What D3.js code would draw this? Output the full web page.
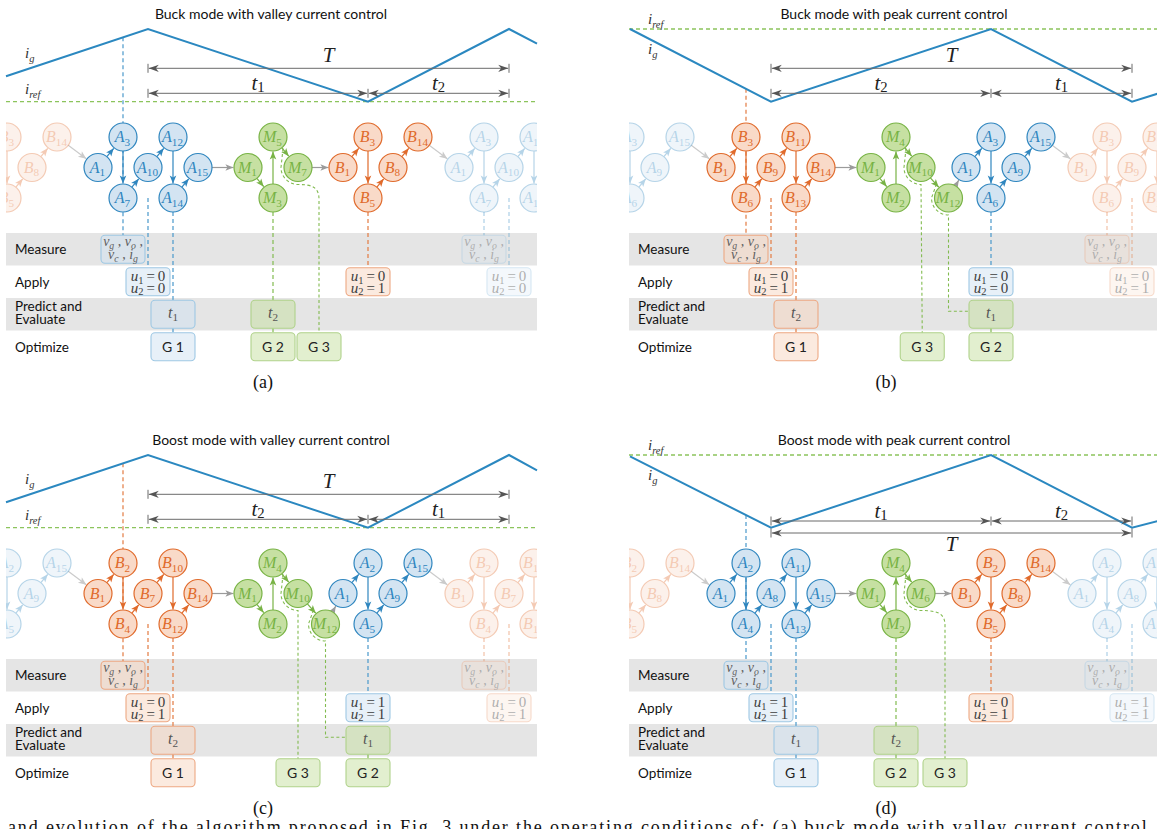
<!DOCTYPE html>
<html>
<head>
<meta charset="utf-8">
<script src="https://cdn.jsdelivr.net/npm/d3@7"></script>
<style>
  body { margin: 0; background: #fff; }
  svg { display: block; }
  .sans { font-family: Lato, "Open Sans", sans-serif; }
  .math { font-family: "Liberation Serif", "DejaVu Serif", serif; }
</style>
</head>
<body>
<svg id="chart" width="1157" height="829"></svg>
<script>
const titles = ["Buck mode with valley current control", "Buck mode with peak current control",
                "Boost mode with valley current control", "Boost mode with peak current control"];
const captions = ["(a)", "(b)", "(c)", "(d)"];
const rowNames = ["Measure", "Apply", "Predict and|Evaluate", "Optimize"];

// nodes in visiting order: [name, time slot, level 0 top / 1 middle / 2 bottom]
const nodesA = [["A1",0,1],["A3",1,0],["A7",1,2],["A10",2,1],["A12",3,0],["A14",3,2],["A15",4,1],
  ["M1",6,1],["M3",7,2],["M5",7,0],["M7",8,1],
  ["B1",9.8,1],["B3",10.8,0],["B5",10.8,2],["B8",11.8,1],["B14",12.8,0]];
const nodesB = [["B1",0,1],["B3",1,0],["B6",1,2],["B9",2,1],["B11",3,0],["B13",3,2],["B14",4,1],
  ["M1",6,1],["M2",7,2],["M4",7,0],["M10",8,1],["M12",9.1,2],
  ["A1",9.8,1],["A3",10.8,0],["A6",10.8,2],["A9",11.8,1],["A15",12.8,0]];
const nodesC = [["B1",0,1],["B2",1,0],["B4",1,2],["B7",2,1],["B10",3,0],["B12",3,2],["B14",4,1],
  ["M1",6,1],["M2",7,2],["M4",7,0],["M10",8,1],["M12",9.1,2],
  ["A1",9.8,1],["A2",10.8,0],["A5",10.8,2],["A9",11.8,1],["A15",12.8,0]];
const nodesD = [["A1",0,1],["A2",1,0],["A4",1,2],["A8",2,1],["A11",3,0],["A13",3,2],["A15",4,1],
  ["M1",6,1],["M2",7,2],["M4",7,0],["M6",8,1],
  ["B1",9.8,1],["B2",10.8,0],["B5",10.8,2],["B8",11.8,1],["B14",12.8,0]];

// inductor current i_g: [time slot, level 0 valley .. 1 peak]
const igA = [[-3.68,0.35],[2,1],[10.8,0],[16.44,1],[17.56,0.8]];
const igB = [[-3.64,1],[2,0],[10.8,1],[16.44,0],[17.56,0.12]];
const igC = [[-3.68,0.35],[2,1],[10.8,0],[16.44,1],[17.56,0.79]];
const igD = [[-3.64,0.98],[2,0],[10.8,1],[16.44,0],[17.56,0.1]];
const refLevel = [0, 1, 0, 1];

const period = 14.44, tStart = 2, tSplit = 10.8;
const spanLabels = [["1","2"],["2","1"],["2","1"],["1","2"]];

// dashed links: [slot, from ("ig" | node level | "box"), to lane, group, next period]
const linksA = [[1,"ig",0,"A",0],[2,1,1,"A",0],[3,2,2,"A",0],[3,"box",3,"A",0],[7,2,2,"M",0],[7,"box",3,"M",0],
  [10.8,2,1,"B",0],[1,2,0,"A",1],[2,1,1,"A",1]];
const linksB = [[1,"ig",0,"B",0],[2,1,1,"B",0],[3,2,2,"B",0],[3,"box",3,"B",0],[10.8,2,1,"A",0],[10.8,"box",3,"M",0],
  [1,2,0,"B",1],[2,1,1,"B",1]];
const linksC = [[1,"ig",0,"B",0],[2,1,1,"B",0],[3,2,2,"B",0],[3,"box",3,"B",0],[10.8,2,1,"A",0],[10.8,"box",3,"M",0],
  [1,2,0,"B",1],[2,1,1,"B",1]];
const linksD = [[1,"ig",0,"A",0],[2,1,1,"A",0],[3,2,2,"A",0],[3,"box",3,"A",0],[7,2,2,"M",0],[7,"box",3,"M",0],
  [10.8,2,1,"B",0],[1,2,0,"A",1],[2,1,1,"A",1]];

// boxes: [slot, lane, group, content, next period]
const boxesA = [[1,0,"A","meas",0],[2,1,"A","u00",0],[3,2,"A","t1",0],[3,3,"A","G 1",0],[7,2,"M","t2",0],[7,3,"M","G 2",0],
  [8.84,3,"M","G 3",0],[10.8,1,"B","u01",0],[1,0,"A","meas",1],[2,1,"A","u00",1]];
const boxesB = [[1,0,"B","meas",0],[2,1,"B","u01",0],[3,2,"B","t2",0],[3,3,"B","G 1",0],[8.05,3,"M","G 3",0],
  [10.8,1,"A","u00",0],[10.8,2,"M","t1",0],[10.8,3,"M","G 2",0],[1,0,"B","meas",1],[2,1,"B","u01",1]];
const boxesC = [[1,0,"B","meas",0],[2,1,"B","u01",0],[3,2,"B","t2",0],[3,3,"B","G 1",0],[8.0,3,"M","G 3",0],
  [10.8,1,"A","u11",0],[10.8,2,"M","t1",0],[10.8,3,"M","G 2",0],[1,0,"B","meas",1],[2,1,"B","u01",1]];
const boxesD = [[1,0,"A","meas",0],[2,1,"A","u11",0],[3,2,"A","t1",0],[3,3,"A","G 1",0],[7,2,"M","t2",0],[7,3,"M","G 2",0],
  [8.96,3,"M","G 3",0],[10.8,1,"B","u01",0],[1,0,"A","meas",1],[2,1,"A","u11",1]];

// dashed curves that wrap around an M node: [node, target slot, target lane, kind]
const curvesA = [["M7",8.84,3,"down"]];
const curvesB = [["M10",8.05,3,"down"],["M12",10.8,2,"elbow"]];
const curvesC = [["M10",8.0,3,"down"],["M12",10.8,2,"elbow"]];
const curvesD = [["M6",8.96,3,"down"]];

const panels = [
  {nodes: nodesA, ig: igA, links: linksA, boxes: boxesA, curves: curvesA},
  {nodes: nodesB, ig: igB, links: linksB, boxes: boxesB, curves: curvesB},
  {nodes: nodesC, ig: igC, links: linksC, boxes: boxesC, curves: curvesC},
  {nodes: nodesD, ig: igD, links: linksD, boxes: boxesD, curves: curvesD}
];
const panelOff = [[0,0],[623,0],[0,426],[623,426]];

const palette = {
  A: {stroke:"#2f86bf", fill:"#d3e4f2", dash:"#4a98cb", box:"#cfe1f1", boxLine:"#9ec8e4"},
  B: {stroke:"#e06a2b", fill:"#f9dac8", dash:"#e37b41", box:"#f7d5bf", boxLine:"#eda883"},
  M: {stroke:"#78b345", fill:"#c6e0a2", dash:"#82bb50", box:"#c5dfa0", boxLine:"#b0d28b"}
};
const edgeGray = "#9b9b9b", wrapGray = "#cbcbcb", dimGray = "#6b6b6b";
const nodeR = 14;

const x = d3.scaleLinear().domain([0, 1]).range([98, 123]);
const lvl = d3.scaleLinear().domain([0, 1]).range([101.7, 29]);
const rowY = d3.scalePoint().domain([0, 1, 2]).range([137, 198]);
const lane = d3.scaleBand().domain([0, 1, 2, 3]).range([233, 363]);

const svg = d3.select("#chart");
const defs = svg.append("defs");

function marker(id, color, path, tip) {
  defs.append("marker").attr("id", id).attr("viewBox", "-1 -5 12 10")
    .attr("refX", tip).attr("refY", 0).attr("markerWidth", 12).attr("markerHeight", 10)
    .attr("markerUnits", "userSpaceOnUse").attr("orient", "auto-start-reverse")
    .append("path").attr("d", path).attr("fill", color);
}
const headPath = "M0,-3.3L8,0L0,3.3L2,0Z";
Object.keys(palette).forEach(k => marker("h" + k, palette[k].stroke, headPath, 8));
marker("hgray", edgeGray, headPath, 8);
marker("hwrap", wrapGray, headPath, 8);
marker("hdim", "#555", "M0,-3.6L10,0L0,3.6L3,0Z", 10);

// text made of italic / roman runs with subscripts
function rich(text, parts, size, drop) {
  let cur = 0;
  parts.forEach(([s, k]) => {
    const sub = k.startsWith("s");
    const want = sub ? size * (drop === undefined ? 0.28 : drop) : 0;
    text.append("tspan").attr("dy", want - cur)
      .style("font-size", (sub ? size * 0.7 : size) + "px")
      .style("font-style", k.endsWith("i") ? "italic" : "normal")
      .text(s);
    cur = want;
  });
  return text;
}

function igAt(pts, s) {
  for (let i = 1; i < pts.length; i++) {
    if (s <= pts[i][0]) {
      const f = (s - pts[i-1][0]) / (pts[i][0] - pts[i-1][0]);
      return lvl(pts[i-1][1] + f * (pts[i][1] - pts[i-1][1]));
    }
  }
  return lvl(pts[pts.length - 1][1]);
}

const boxTop = l => lane(l) + 2.25;

panels.forEach((p, pi) => {
  const [dx, dy] = panelOff[pi];
  const g = svg.append("g").attr("transform", `translate(${dx},${dy})`);
  defs.append("clipPath").attr("id", "clip" + pi)
    .append("rect").attr("x", 6).attr("y", 0).attr("width", 531).attr("height", 420);

  // grey lanes and row names
  g.selectAll(".band").data([0, 2]).join("rect").attr("class", "band")
    .attr("x", 6).attr("width", 531).attr("y", d => lane(d)).attr("height", lane.bandwidth())
    .attr("fill", "#e5e5e5");
  rowNames.forEach((name, i) => {
    const parts = name.split("|");
    const cy = lane(i) + lane.bandwidth() / 2;
    const t = g.append("text").attr("class", "sans").attr("x", 15)
      .attr("y", parts.length > 1 ? cy - 3 : cy + 4.8)
      .style("font-size", "13.5px").attr("fill", "#111");
    parts.forEach((s, j) => t.append("tspan").attr("x", 15).attr("dy", j ? 13 : 0).text(s));
  });

  g.append("text").attr("class", "sans").attr("x", 271).attr("y", 18.5)
    .attr("text-anchor", "middle").style("font-size", "14px").attr("fill", "#111").text(titles[pi]);
  g.append("text").attr("class", "math").attr("x", 263).attr("y", 388)
    .attr("text-anchor", "middle").style("font-size", "18px").attr("fill", "#111").text(captions[pi]);

  // i_ref and i_g
  const refY = lvl(refLevel[pi]);
  g.append("line").attr("x1", 6).attr("x2", 537).attr("y1", refY).attr("y2", refY)
    .attr("stroke", "#8cc45c").attr("stroke-width", 1.3).attr("stroke-dasharray", "4,3");
  const low = refLevel[pi] === 0;
  rich(g.append("text").attr("class", "math").attr("x", 25).attr("y", low ? 58 : 54).attr("fill", "#333"),
    [["i","i"],["g","si"]], 15);
  rich(g.append("text").attr("class", "math").attr("x", 25).attr("y", low ? 94 : 24).attr("fill", "#333"),
    [["i","i"],["ref","si"]], 15);

  // dashed links into the task rows
  p.links.forEach(([s, from, to, grp, nxt]) => {
    const cx = x(s + nxt * period);
    let y0;
    if (from === "ig") y0 = igAt(p.ig, s);
    else if (from === "box") y0 = boxTop(2) + 28;
    else y0 = from === 2 ? rowY(2) + nodeR : rowY(2);
    g.append("line").attr("x1", cx).attr("x2", cx).attr("y1", y0).attr("y2", boxTop(to))
      .attr("stroke", palette[grp].dash).attr("stroke-width", 1.2).attr("stroke-dasharray", "4,3")
      .attr("opacity", nxt ? 0.45 : 1);
  });

  // dashed curves that wrap around an M node
  p.curves.forEach(([name, s, to, kind]) => {
    const n = p.nodes.find(d => d[0] === name);
    const cx = x(n[1]), cy = rowY(n[2]);
    const gx = kind === "down" ? x(s) : cx;
    const path = d3.path();
    if (n[2] === 1) path.moveTo(cx - 15, cy - 19); else path.moveTo(cx - 12, cy - 14);
    path.arc(cx, cy, 17, Math.PI, Math.PI / 2, true);
    if (Math.abs(gx - cx) > 2) path.bezierCurveTo(cx + (gx - cx) * 0.7, cy + 17, gx, cy + 20, gx, cy + 32);
    if (kind === "down") {
      path.lineTo(gx, boxTop(to));
    } else {
      const my = lane(to) + lane.bandwidth() / 2 - 3;
      path.lineTo(gx, my);
      path.lineTo(x(s) - 22, my);
    }
    g.append("path").attr("d", path.toString()).attr("fill", "none")
      .attr("stroke", palette.M.dash).attr("stroke-width", 1.1).attr("stroke-dasharray", "3,2.5");
  });

  g.append("path").datum(p.ig)
    .attr("d", d3.line().x(d => x(d[0])).y(d => lvl(d[1])))
    .attr("fill", "none").attr("stroke", "#2b88c0").attr("stroke-width", 2).attr("stroke-linejoin", "miter");

  // period dimension arrows
  const x0 = x(tStart), xm = x(tSplit), x1 = x(tStart + period);
  const yT = pi === 3 ? 107 : 68.3, yt = pi === 3 ? 95 : 93.3;
  const dim = (y, stops) => {
    stops.forEach(v => g.append("line").attr("x1", v).attr("x2", v).attr("y1", y - 4.5).attr("y2", y + 4.5)
      .attr("stroke", dimGray).attr("stroke-width", 1));
    d3.pairs(stops).forEach(([a, b]) => g.append("line")
      .attr("x1", a + 0.8).attr("x2", b - 0.8).attr("y1", y).attr("y2", y)
      .attr("stroke", dimGray).attr("stroke-width", 1)
      .attr("marker-start", "url(#hdim)").attr("marker-end", "url(#hdim)"));
  };
  dim(yT, [x0, x1]);
  dim(yt, [x0, xm, x1]);
  g.append("text").attr("class", "math").attr("x", (x0 + x1) / 2).attr("y", pi === 3 ? yT + 18 : yT - 6)
    .attr("text-anchor", "middle").style("font-size", "21px").style("font-style", "italic").attr("fill", "#222").text("T");
  [[x0, xm], [xm, x1]].forEach(([a, b], j) => {
    rich(g.append("text").attr("class", "math").attr("x", (a + b) / 2).attr("y", yt - 3.5)
      .attr("text-anchor", "middle").attr("fill", "#222"),
      [["t","i"],[spanLabels[pi][j],"sr"]], 21, 0.12);
  });

  // task boxes
  p.boxes.forEach(([s, ln, grp, content, nxt]) => {
    const cx = x(s + nxt * period), top = boxTop(ln);
    const bg = g.append("g").attr("opacity", nxt ? 0.42 : 1);
    bg.append("rect").attr("x", cx - 22).attr("y", top).attr("width", 44).attr("height", 28).attr("rx", 4)
      .attr("fill", palette[grp].box).attr("fill-opacity", 0.5)
      .attr("stroke", palette[grp].boxLine).attr("stroke-width", 1.1);
    const txt = (y, col) => bg.append("text").attr("class", "math").attr("x", cx).attr("y", y)
      .attr("text-anchor", "middle").attr("fill", col);
    if (content === "meas") {
      rich(txt(top + 11, "#5f5f5f"), [["v","i"],["g","si"],[" , ","r"],["v","i"],["o","si"],[" ,","r"]], 14, 0.22);
      rich(txt(top + 23.5, "#5f5f5f"), [["v","i"],["c","si"],[" , ","r"],["i","i"],["g","si"]], 14, 0.22);
    } else if (content[0] === "u") {
      rich(txt(top + 13.5, "#3d3d3d"), [["u","i"],["1","sr"],["\u2009=\u2009" + content[1],"r"]], 15, 0.18);
      rich(txt(top + 25, "#3d3d3d"), [["u","i"],["2","sr"],["\u2009=\u2009" + content[2],"r"]], 15, 0.18);
    } else if (content[0] === "t") {
      rich(txt(top + 18, "#555"), [["t","i"],[content[1],"sr"]], 16, 0.2);
    } else {
      bg.append("text").attr("class", "sans").attr("x", cx).attr("y", top + 19)
        .attr("text-anchor", "middle").style("font-size", "14px").attr("fill", "#222").text(content);
    }
  });

  // task graph, current period plus faded neighbours
  const cg = g.append("g").attr("clip-path", `url(#clip${pi})`);
  const pos = (n, k) => [x(n[1] + k * period), rowY(n[2])];
  const edge = (sg, a, b, color, head) => {
    const [ax, ay] = a, [bx, by] = b;
    const len = Math.hypot(bx - ax, by - ay), ux = (bx - ax) / len, uy = (by - ay) / len;
    sg.append("line").attr("x1", ax + ux * nodeR).attr("y1", ay + uy * nodeR)
      .attr("x2", bx - ux * (nodeR + 0.6)).attr("y2", by - uy * (nodeR + 0.6))
      .attr("stroke", color).attr("stroke-width", 1.2).attr("marker-end", `url(#${head})`);
  };
  [-1, 0].forEach(k => {
    const last = p.nodes[p.nodes.length - 1];
    edge(cg, pos(last, k), pos(p.nodes[0], k + 1), wrapGray, "hwrap");
  });
  [-1, 1, 0].forEach(k => {
    const sg = cg.append("g").attr("opacity", k === 0 ? 1 : 0.35);
    d3.pairs(p.nodes).forEach(([a, b]) => {
      const same = a[0][0] === b[0][0];
      edge(sg, pos(a, k), pos(b, k), same ? palette[a[0][0]].stroke : edgeGray, same ? "h" + a[0][0] : "hgray");
    });
    p.nodes.forEach(n => {
      const [cx, cy] = pos(n, k), grp = palette[n[0][0]];
      sg.append("circle").attr("cx", cx).attr("cy", cy).attr("r", nodeR)
        .attr("fill", grp.fill).attr("stroke", grp.stroke).attr("stroke-width", 1.2);
      rich(sg.append("text").attr("class", "math").attr("x", cx - 0.5).attr("y", cy + 5)
        .attr("text-anchor", "middle").attr("fill", grp.stroke),
        [[n[0][0], "i"], [n[0].slice(1), "sr"]], 16, 0.22);
    });
  });
});

svg.append("text").attr("class", "math").attr("x", 8).attr("y", 833)
  .attr("textLength", 1145).attr("lengthAdjust", "spacing")
  .style("font-size", "18px").attr("fill", "#111")
  .text("and evolution of the algorithm proposed in Fig. 3 under the operating conditions of: (a) buck mode with valley current control,");
</script>
</body>
</html>
